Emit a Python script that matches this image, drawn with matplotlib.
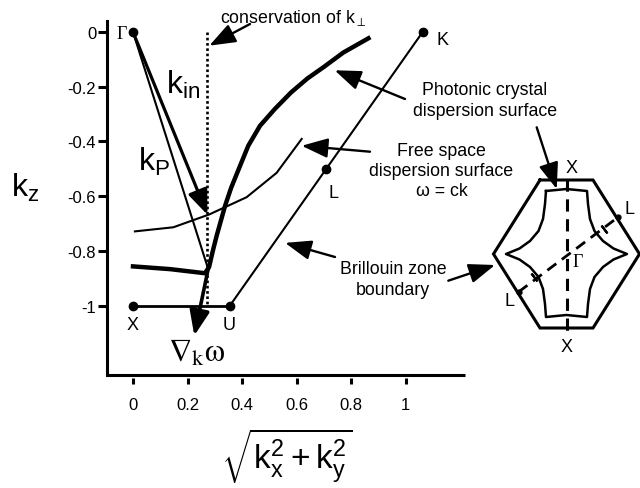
import numpy as np
import matplotlib
matplotlib.use('Agg')
import matplotlib.pyplot as plt

plt.rcParams['font.family'] = ['Liberation Sans', 'DejaVu Sans']
plt.rcParams['mathtext.fontset'] = 'custom'
plt.rcParams['mathtext.rm'] = 'Liberation Sans'
plt.rcParams['mathtext.it'] = 'Liberation Sans'
plt.rcParams['mathtext.bf'] = 'Liberation Sans:bold'

# high symmetry points, (k_par, k_z)
pt_names = ['Γ', 'X', 'U', 'L', 'K']
pt_x = [0.0, 0.0, 0.356, 0.71, 1.063]
pt_z = [0.0, -1.0, -1.0, -0.5, 0.0]

# conserved parallel wavevector
k_perp = 0.273

# free space dispersion surface (w = ck)
free_x = [0.007, 0.148, 0.28, 0.417, 0.49, 0.527, 0.619]
free_z = [-0.729, -0.714, -0.667, -0.604, -0.545, -0.515, -0.391]

# photonic crystal dispersion surface
pc_x = [0.0, 0.136, 0.264, 0.279, 0.293, 0.307, 0.338, 0.36, 0.393, 0.423,
        0.466, 0.52, 0.58, 0.64, 0.70, 0.772, 0.864]
pc_z = [-0.857, -0.867, -0.882, -0.86, -0.80, -0.745, -0.635, -0.57, -0.489, -0.416,
        -0.343, -0.282, -0.221, -0.17, -0.128, -0.075, -0.023]

# incident / refracted wavevectors and group velocity
k_in_tip = (k_perp, -0.668)
k_p_tip = (0.276, -0.867)
vg_tail = (0.276, -0.866)
vg_tip = (0.225, -1.11)

xticks = [0, 0.2, 0.4, 0.6, 0.8, 1.0]
xticklabels = ['0', '0.2', '0.4', '0.6', '0.8', '1']
yticks = [0, -0.2, -0.4, -0.6, -0.8, -1.0]
yticklabels = ['0', '-0.2', '-0.4', '-0.6', '-0.8', '-1']

# Brillouin zone cross-section (hexagon) and the crystal surface inside it
hex_x = [-26.5, 26.5, 73, 26.5, -26.5, -73, -26.5]
hex_y = [74, 74, 0, -74, -74, 0, 74]
quad_x = np.array([-20.5, -21.5, -23.5, -28, -36.5, -47, -60.5])
quad_y = np.array([63, 50, 35, 23, 13, 5.5, 0])
gl_x = [-48, 51.8]
gl_y = [-38, 37]

W, H = 640, 489
fig = plt.figure(figsize=(6.4, 4.89), dpi=100)


def fpx(x, y):
    # pixel position measured from the top-left corner -> figure pixels
    return (x, H - y)


ax = fig.add_axes([107 / W, (H - 376) / H, 358 / W, 354 / H])
ax.set_xlim(-0.0954, 1.2183)
ax.set_ylim(-1.2541, 0.0402)

for s in ['top', 'right']:
    ax.spines[s].set_visible(False)
ax.spines['left'].set_linewidth(2.2)
ax.spines['bottom'].set_visible(False)
ax.spines['bottom'].set_position(('outward', 2.5))
ax.plot([0, 1], [0, 0], transform=ax.transAxes, color='k', lw=2.2,
        clip_on=False, solid_capstyle='butt')

ax.set_xticks(xticks)
ax.set_xticklabels(xticklabels)
ax.set_yticks(yticks)
ax.set_yticklabels(yticklabels)
ax.tick_params(axis='x', direction='out', length=4.5, width=2.2, pad=9, labelsize=12)
ax.tick_params(axis='y', direction='out', length=6.8, width=2.2, pad=1, labelsize=12)

# Brillouin zone boundary X-U-L-K
ax.plot(pt_x[1:3], pt_z[1:3], color='k', lw=2.0)
ax.plot([pt_x[2], pt_x[4]], [pt_z[2], pt_z[4]], color='k', lw=1.5)
ax.plot(pt_x, pt_z, 'o', color='k', ms=6)

# conservation of k_perp
ax.plot([k_perp, k_perp], [0, -1], color='k', lw=1.9, linestyle=(0, (1, 1)))

ax.plot(free_x, free_z, color='k', lw=1.5, solid_joinstyle='round')
ax.plot(pc_x, pc_z, color='k', lw=3.2, solid_joinstyle='round')

# k_P (thin) and k_in (arrow)
ax.plot([0, k_p_tip[0]], [0, k_p_tip[1]], color='k', lw=1.5)
ax.annotate('', xy=k_in_tip, xytext=(0, 0),
            arrowprops=dict(arrowstyle='-|>,head_length=0.75,head_width=0.3',
                            mutation_scale=20, lw=2.3, color='k',
                            shrinkA=0, shrinkB=0))
ax.annotate('', xy=vg_tip, xytext=vg_tail,
            arrowprops=dict(arrowstyle='-|>,head_length=0.75,head_width=0.3',
                            mutation_scale=20, lw=2.6, color='k',
                            shrinkA=0, shrinkB=0))

# point labels
ax.text(-0.041, -0.007, 'Γ', family='Liberation Serif', fontsize=13,
        ha='center', va='center')
ax.text(0.0, -1.071, 'X', fontsize=13, ha='center', va='center')
ax.text(0.353, -1.068, 'U', fontsize=13, ha='center', va='center')
ax.text(1.115, -0.026, 'K', fontsize=13, ha='left', va='center')
ax.text(0.735, -0.586, 'L', fontsize=13, ha='center', va='center')

ax.text(0.185, -0.19, r'k$_\mathrm{in}$', fontsize=23, ha='center', va='center')
ax.text(0.077, -0.47, r'k$_\mathrm{P}$', fontsize=23, ha='center', va='center')
ax.text(0.234, -1.171, r'$\nabla_\mathrm{k}\mathrm{\omega}$', fontsize=23,
        math_fontfamily='stix', ha='center', va='center')

fig.text(25 / W, 1 - 188 / H, r'k$_\mathrm{z}$', fontsize=23, ha='center', va='center')
fig.text(287 / W, 1 - 456 / H, r'$\sqrt{\mathrm{k}_\mathrm{x}^2+\mathrm{k}_\mathrm{y}^2}$',
         fontsize=24, ha='center', va='center')

# annotation texts
fig.text(220 / W, 1 - 22.7 / H, r'conservation of k$_\perp$', fontsize=12.8,
         ha='left', va='baseline')
fig.text(485 / W, 1 - 101 / H, 'Photonic crystal\ndispersion surface', fontsize=12.8,
         ha='center', va='center', linespacing=1.25)
fig.text(441.5 / W, 1 - 171.5 / H, 'Free space\ndispersion surface\nω = ck',
         fontsize=12.8, ha='center', va='center', linespacing=1.25)
fig.text(393 / W, 1 - 280 / H, 'Brillouin zone\nboundary', fontsize=12.8,
         ha='center', va='center', linespacing=1.25)

arrow_kw = dict(arrowstyle='-|>,head_length=0.8,head_width=0.3',
                mutation_scale=20, lw=1.7, color='k', shrinkA=0, shrinkB=0)

ax.annotate('', xy=(0.28, -0.05), xytext=fpx(250, 25),
            textcoords='figure pixels', arrowprops=arrow_kw)
ax.annotate('', xy=(0.74, -0.14), xytext=fpx(405, 100),
            textcoords='figure pixels', arrowprops=arrow_kw)
ax.annotate('', xy=(0.619, -0.416), xytext=fpx(370, 152.7),
            textcoords='figure pixels', arrowprops=arrow_kw)
ax.annotate('', xy=(0.558, -0.771), xytext=fpx(335, 258),
            textcoords='figure pixels', arrowprops=arrow_kw)

# hexagonal Brillouin zone slice
axh = fig.add_axes([486 / W, (H - 355) / H, 154 / W, 195 / H])
axh.set_xlim(-80.5, 73.5)
axh.set_ylim(-100, 95)
axh.axis('off')

inner_x = np.concatenate([quad_x, quad_x[::-1], [0], -quad_x, -quad_x[::-1], [0], quad_x[:1]])
inner_y = np.concatenate([quad_y, -quad_y[::-1], [-61], -quad_y, quad_y[::-1], [65], quad_y[:1]])

axh.plot(hex_x, hex_y, color='k', lw=2.2, clip_on=False, solid_joinstyle='miter')
axh.plot(inner_x, inner_y, color='k', lw=1.8, clip_on=False)
axh.plot([0, 0], [75, -77], color='k', lw=2.2, linestyle=(0, (4, 2.5)), clip_on=False)
axh.plot(gl_x, gl_y, color='k', lw=2.0, linestyle=(0, (4, 2.5)), clip_on=False)
axh.plot(gl_x, gl_y, 'o', color='k', ms=3.5, clip_on=False)
axh.plot([-33, 37], [-23, 25], linestyle='none', marker=(2, 2, 36.9),
         ms=7, mew=1.6, color='k', clip_on=False)

axh.text(5, 86.7, 'X', fontsize=13, ha='center', va='center')
axh.text(0, -93, 'X', fontsize=13, ha='center', va='center')
axh.text(11, -8, 'Γ', family='Liberation Serif', fontsize=13, ha='center', va='center')
axh.text(63.5, 45, 'L', fontsize=13, ha='center', va='center')
axh.text(-56.5, -46.7, 'L', fontsize=13, ha='center', va='center')

axh.annotate('', xy=(-9.8, 65), xytext=fpx(536.7, 128.3),
             textcoords='figure pixels', arrowprops=arrow_kw)
axh.annotate('', xy=(-71.5, -11), xytext=fpx(448.3, 281.7),
             textcoords='figure pixels', arrowprops=arrow_kw)

fig.savefig('out.png', dpi=100)
